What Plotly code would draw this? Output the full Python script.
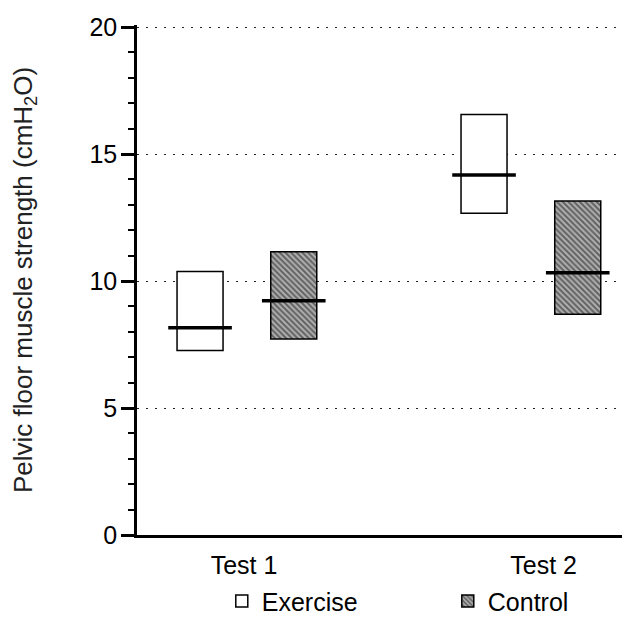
import plotly.graph_objects as go

# ---- data ----
categories = ["Test 1", "Test 2"]
exercise_low = [7.26, 12.67]
exercise_high = [10.37, 16.56]
exercise_median = [8.16, 14.17]
control_low = [7.72, 8.69]
control_high = [11.15, 13.15]
control_median = [9.22, 10.33]
y_ticks = [0, 5, 10, 15, 20]

# ---- layout constants ----
group_pos = [0, 1]
label_pos = [-0.01, 1.045]
offset = 0.165
box_w = 0.162
med_half = 0.112
FONT = "Liberation Sans, Arial, Helvetica, sans-serif"

ex_x = [g - offset for g in group_pos]
ct_x = [g + offset for g in group_pos]

fig = go.Figure()

fig.add_trace(go.Bar(
    name="Exercise", x=ex_x,
    y=[h - l for h, l in zip(exercise_high, exercise_low)],
    base=exercise_low, width=box_w,
    marker=dict(color="white", line=dict(color="black", width=1.5)),
))
fig.add_trace(go.Bar(
    name="Control", x=ct_x,
    y=[h - l for h, l in zip(control_high, control_low)],
    base=control_low, width=box_w,
    marker=dict(color="#bdbdbd", line=dict(color="black", width=1.5),
                pattern=dict(shape="\\", fgcolor="#111", bgcolor="#b0b0b0",
                             size=4, solidity=0.5)),
))

# median lines
mx, my = [], []
for xs, meds in ((ex_x, exercise_median), (ct_x, control_median)):
    for xc, m in zip(xs, meds):
        mx += [xc - med_half, xc + med_half, None]
        my += [m, m, None]
fig.add_trace(go.Scatter(x=mx, y=my, mode="lines",
                         line=dict(color="black", width=3.5),
                         showlegend=False, hoverinfo="skip"))

fig.update_layout(
    width=630, height=617,
    margin=dict(l=129, r=8, t=17, b=90, autoexpand=False),
    paper_bgcolor="white", plot_bgcolor="white",
    barmode="overlay",
    font=dict(family=FONT, color="black", size=25),
    showlegend=True,
    legend=dict(orientation="h", x=0.172, xanchor="left", y=-0.13, yanchor="middle",
                font=dict(size=25), entrywidth=181, entrywidthmode="pixels",
                bgcolor="rgba(0,0,0,0)"),
)

fig.update_xaxes(
    range=[-0.387, 1.349],
    tickvals=label_pos, ticktext=categories,
    showline=True, linecolor="black", linewidth=2.5,
    ticks="", showgrid=False, zeroline=False,
    tickfont=dict(size=25), automargin=False, ticklabelstandoff=6,
)
fig.update_yaxes(
    range=[0, 20.08],
    tickvals=y_ticks,
    showline=True, linecolor="black", linewidth=2.5,
    ticks="outside", ticklen=13, tickwidth=2.5, tickcolor="black",
    minor=dict(dtick=1, ticks="outside", ticklen=6, tickwidth=2, tickcolor="black",
               showgrid=False),
    showgrid=True, gridcolor="#222", gridwidth=1.2, griddash="2px,7px",
    zeroline=False,
    tickfont=dict(size=25), automargin=False, ticklabelstandoff=-1,
    title=dict(text="Pelvic floor muscle strength (cmH<sub>2</sub>O)",
               font=dict(size=26, color="#222"), standoff=58),
)

fig.write_html("out.html")
